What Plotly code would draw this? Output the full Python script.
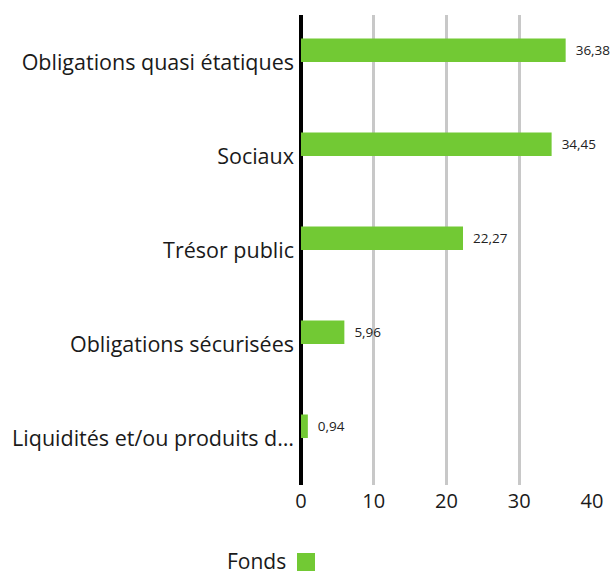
import plotly.graph_objects as go

categories = ["Obligations quasi étatiques", "Sociaux", "Trésor public",
              "Obligations sécurisées", "Liquidités et/ou produits d…"]
fonds = [36.38, 34.45, 22.27, 5.96, 0.94]
x_ticks = [0, 10, 20, 30, 40]
series_name = "Fonds"

FONT = "Open Sans"
GREEN = "#72c934"
L, R, T, B = 301, 22, 15, 89
W, H = 614, 574
PW = W - L - R
PH = H - T - B

fig = go.Figure()
fig.add_trace(go.Bar(
    y=categories, x=fonds, orientation="h", name=series_name,
    marker=dict(color=GREEN, line=dict(width=0)),
    width=0.25, offset=-0.25,
    text=["  " + f"{v:.2f}".replace(".", ",") for v in fonds],
    textposition="outside", cliponaxis=False,
    textfont=dict(size=13.5, color="#222222", family=FONT),
    showlegend=False, hoverinfo="skip",
))
# legend key for the series (larger square swatch)
fig.add_trace(go.Scatter(
    x=[None], y=[None], mode="markers", name="",
    marker=dict(symbol="square", size=16, color=GREEN,
                line=dict(color=GREEN, width=2)),
    showlegend=True,
))

fig.add_annotation(text=series_name, xref="paper", yref="paper",
                   x=(288 - L) / PW, y=(T + PH - 561) / PH,
                   xanchor="right", yanchor="middle", showarrow=False,
                   font=dict(size=21, color="#1a1a1a"))

fig.update_layout(
    width=W, height=H,
    margin=dict(l=L, r=R, t=T, b=B),
    plot_bgcolor="white", paper_bgcolor="white",
    font=dict(family=FONT, color="#1a1a1a"),
    xaxis=dict(range=[0, 40], tickvals=x_ticks, showgrid=True,
               gridcolor="#c8c8c8", gridwidth=2.5, zeroline=True,
               zerolinecolor="black", zerolinewidth=4,
               tickfont=dict(size=20), showline=False, ticks="",
               automargin=False, ticklabelstandoff=2),
    yaxis=dict(autorange="reversed", showline=False, tickfont=dict(size=21.5),
               ticks="", showgrid=False, automargin=False,
               ticklabelstandoff=6),
    legend=dict(orientation="h", xref="container", yref="container",
                x=286 / W, xanchor="left",
                y=1 - 562 / H, yanchor="middle",
                font=dict(size=8), itemwidth=30),
    showlegend=True,
)

fig.write_html("out.html", config={"displayModeBar": False},
               post_script="document.body.style.margin='0';")
